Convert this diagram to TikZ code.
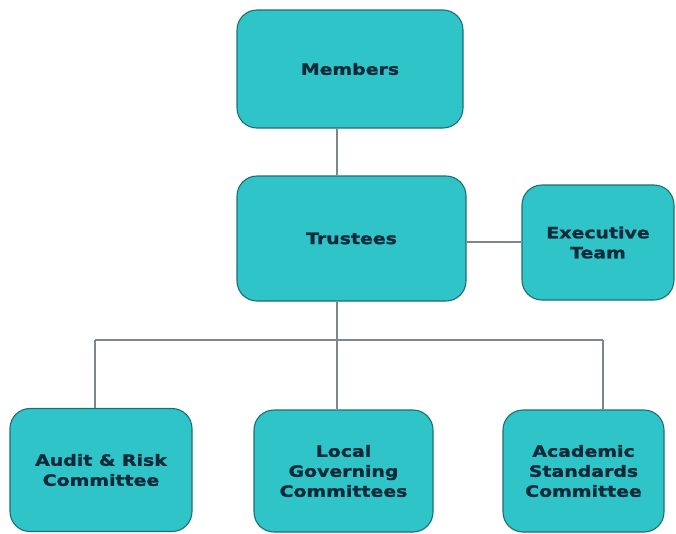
\documentclass[tikz,border=0pt]{standalone}
\usepackage{fontspec}
\setmainfont{DejaVu Sans}[FakeStretch=1.22,BoldFeatures={FakeBold=1.4}]
\definecolor{boxfill}{RGB}{47,197,200}
\definecolor{boxedge}{RGB}{28,110,118}
\definecolor{boxtext}{RGB}{14,42,58}
\definecolor{linkline}{RGB}{120,136,142}
\begin{document}
\begin{tikzpicture}[x=1pt,y=-1pt,
  orgbox/.style={draw=boxedge,line width=1.1pt,fill=boxfill,rounded corners=20pt,
    text=boxtext,font=\bfseries\fontsize{15.5}{20}\selectfont,align=center,
    inner sep=0pt},
  link/.style={draw=linkline,line width=1.4pt}]
\useasboundingbox (0,0) rectangle (676,533);
% boxes
\node[orgbox,minimum width=226pt,minimum height=118pt] (members) at (350,69) {Members};
\node[orgbox,minimum width=229pt,minimum height=125pt] (trustees) at (351.5,238.5) {Trustees};
\node[orgbox,minimum width=152pt,minimum height=115pt] (exec) at (598,242.5) {Executive\\Team};
\node[orgbox,minimum width=182pt,minimum height=123pt] (audit) at (101,470) {Audit \& Risk\\Committee};
\node[orgbox,minimum width=179pt,minimum height=122pt] (local) at (343.5,471) {Local\\Governing\\Committees};
\node[orgbox,minimum width=161pt,minimum height=122pt] (acad) at (583.5,471) {Academic\\Standards\\Committee};
% connector layout points
\coordinate (spine) at (337,340);
\coordinate (busL) at (95,340);
\coordinate (busR) at (603,340);
% connectors
\draw[link] (members.south -| spine) -- (trustees.north -| spine);
\draw[link] (trustees.east |- 0,242) -- (exec.west |- 0,242);
\draw[link] (trustees.south -| spine) -- (local.north -| spine);
\draw[link] (busL) -- (busR);
\draw[link] (busL) -- (audit.north -| busL);
\draw[link] (busR) -- (acad.north -| busR);
\end{tikzpicture}
\end{document}
